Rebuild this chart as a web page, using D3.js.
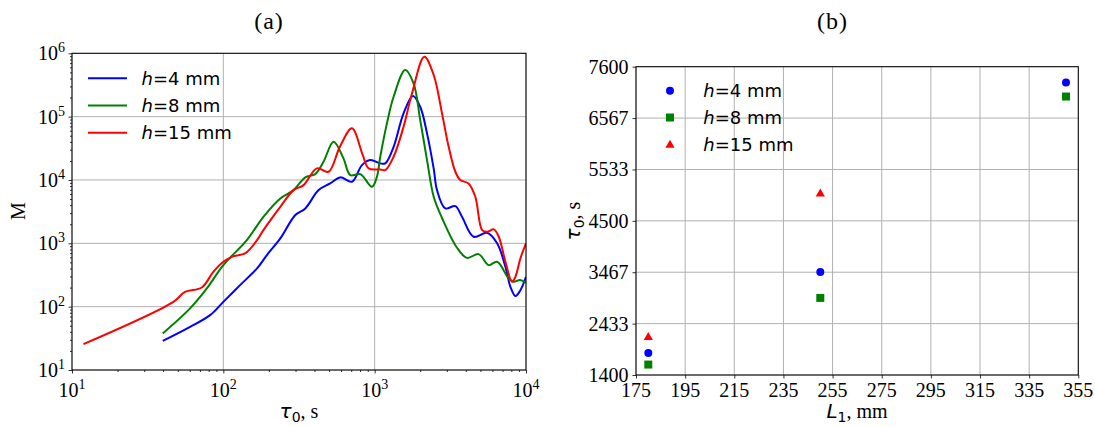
<!DOCTYPE html>
<html>
<head>
<meta charset="utf-8">
<script src="https://cdn.jsdelivr.net/npm/d3@7"></script>
<style>
  body { margin: 0; background: #fff; }
  svg { display: block; }
</style>
</head>
<body>
<svg id="chart" width="1095" height="427"></svg>
<script>
// (a) M vs tau_0, one curve per gap height
const tau4 = [39.8, 60.3, 81.8, 100, 129, 167, 194, 238, 299, 348, 426, 508, 592, 708, 824, 935, 1089, 1175, 1334, 1552, 1791, 2000, 2218, 2455, 2582, 2931, 3412, 3776, 4508, 5534, 6442, 7311, 7889, 8511, 9183, 10000];
const m4 = [28.8, 48, 73.5, 119, 219, 401, 652, 1194, 2793, 3556, 6918, 8831, 10990, 9376, 17180, 20610, 18280, 18280, 33420, 112700, 211300, 143200, 54450, 15140, 6918, 3556, 3873, 2624, 1268, 1466, 1000, 426, 206, 147, 182, 296];

const tau8 = [39.8, 60.3, 77.8, 100, 143, 184, 238, 291, 348, 405, 459, 535, 622, 690, 804, 959, 1035, 1089, 1205, 1334, 1592, 1807, 2000, 2218, 2455, 2786, 3499, 4074, 4864, 5662, 6442, 7691, 8299, 9120, 10000];
const m8 = [37.8, 93.8, 194, 453, 1122, 2624, 5117, 6918, 10990, 12390, 19410, 40090, 21930, 11940, 12390, 7816, 11220, 23280, 78340, 206100, 544500, 335700, 88310, 20610, 5433, 2512, 851, 589, 675, 453, 511, 279, 247, 263, 240];

const tau15 = [11.9, 46.8, 55.8, 72.1, 85.9, 100, 117, 139, 167, 184, 238, 291, 339, 415, 496, 589, 708, 832, 912, 1089, 1175, 1334, 1552, 1766, 2128, 2455, 2786, 3083, 3412, 3681, 4169, 4624, 5129, 5534, 6124, 6607, 7311, 8091, 8511, 9183, 10000];
const m15 = [25.6, 119, 171, 201, 355, 511, 628, 692, 1122, 1618, 3776, 6918, 8299, 15240, 13490, 33420, 65310, 25120, 15240, 14690, 14350, 23280, 69180, 233300, 883100, 454000, 112700, 33420, 13490, 9954, 8831, 5433, 1618, 1521, 1660, 1268, 511, 247, 296, 577, 1000];

const tauDecades = [10, 100, 1000, 10000];
const mDecades = [10, 100, 1000, 10000, 100000, 1000000];

// (b) tau_0 vs L1
const lengths = [180, 250, 350];
const tauH4 = [1840, 3470, 7280];
const tauH8 = [1610, 2950, 7000];
const lengthsH15 = [180, 250];
const tauH15 = [2170, 5060];
const lengthTicks = [175, 195, 215, 235, 255, 275, 295, 315, 335, 355];
const tauTicks = [1400, 2433, 3467, 4500, 5533, 6567, 7600];

const legendLabels = ["4", "8", "15"];
const colors = ["#0000ff", "#008000", "#ff0000"];

const serif = "'Liberation Serif', 'Times New Roman', serif";
const sans = "'DejaVu Sans', sans-serif";
const gridColor = "#b0b0b0";

const svg = d3.select("#chart");

// ---------- panel (a) ----------
const A = {left: 72, right: 526, top: 53.3, bottom: 370};
const xA = d3.scaleLog().domain([10, 10000]).range([A.left, A.right]);
const yA = d3.scaleLog().domain([10, 1e6]).range([A.bottom, A.top]);

const minorOf = (decades) => {
  const out = [];
  for (let i = 0; i < decades.length - 1; i++)
    for (let k = 2; k <= 9; k++) out.push(decades[i] * k);
  return out;
};

const gA = svg.append("g");

// grid
gA.selectAll("line.gx").data(tauDecades).enter().append("line")
  .attr("x1", d => xA(d)).attr("x2", d => xA(d))
  .attr("y1", A.top).attr("y2", A.bottom)
  .attr("stroke", gridColor).attr("stroke-width", 1);
gA.selectAll("line.gy").data(mDecades).enter().append("line")
  .attr("y1", d => yA(d)).attr("y2", d => yA(d))
  .attr("x1", A.left).attr("x2", A.right)
  .attr("stroke", gridColor).attr("stroke-width", 1);

// ticks
const tickAxis = (g, axis, vals, size) => {
  g.call(axis.tickValues(vals).tickSize(size).tickFormat(""));
  g.select(".domain").remove();
  g.selectAll(".tick line").attr("stroke", "#000").attr("stroke-width", 0.8);
};
tickAxis(gA.append("g").attr("transform", `translate(0,${A.bottom})`), d3.axisBottom(xA), tauDecades, 3.5);
tickAxis(gA.append("g").attr("transform", `translate(0,${A.bottom})`), d3.axisBottom(xA), minorOf(tauDecades), 2);
tickAxis(gA.append("g").attr("transform", `translate(${A.left},0)`), d3.axisLeft(yA), mDecades, 3.5);
tickAxis(gA.append("g").attr("transform", `translate(${A.left},0)`), d3.axisLeft(yA), minorOf(mDecades), 2);

// power-of-ten tick labels
const powLabel = (sel) => {
  sel.append("tspan").text("10");
  sel.append("tspan").attr("dy", -8).attr("font-size", 14).text(d => Math.round(Math.log10(d)));
};
gA.selectAll("text.xl").data(tauDecades).enter().append("text")
  .attr("x", d => xA(d)).attr("y", A.bottom + 27)
  .attr("text-anchor", "middle").attr("font-family", serif).attr("font-size", 20)
  .call(powLabel);
gA.selectAll("text.yl").data(mDecades).enter().append("text")
  .attr("x", A.left - 7).attr("y", d => yA(d) + 7)
  .attr("text-anchor", "end").attr("font-family", serif).attr("font-size", 20)
  .call(powLabel);

// curves
svg.append("clipPath").attr("id", "clipA").append("rect")
  .attr("x", A.left).attr("y", A.top).attr("width", A.right - A.left).attr("height", A.bottom - A.top);
const lineA = d3.line().x(d => xA(d[0])).y(d => yA(d[1])).curve(d3.curveCatmullRom.alpha(0.5));
const seriesA = [d3.zip(tau4, m4), d3.zip(tau8, m8), d3.zip(tau15, m15)];
gA.append("g").attr("clip-path", "url(#clipA)")
  .selectAll("path").data(seriesA).enter().append("path")
  .attr("d", lineA).attr("fill", "none")
  .attr("stroke", (d, i) => colors[i]).attr("stroke-width", 2)
  .attr("stroke-linejoin", "round");

// frame
gA.append("rect").attr("x", A.left).attr("y", A.top)
  .attr("width", A.right - A.left).attr("height", A.bottom - A.top)
  .attr("fill", "none").attr("stroke", "#000").attr("stroke-width", 1);

// legend
const legA = gA.append("g");
legendLabels.forEach((lab, i) => {
  const y = 78.3 + i * 27.2;
  legA.append("line").attr("x1", 88).attr("x2", 127).attr("y1", y).attr("y2", y)
    .attr("stroke", colors[i]).attr("stroke-width", 2);
  const t = legA.append("text").attr("x", 141.5).attr("y", y + 6.5)
    .attr("font-family", sans).attr("font-size", 18);
  t.append("tspan").attr("font-style", "italic").text("h");
  t.append("tspan").text("=" + lab + " mm");
});

// labels
svg.append("text").attr("x", 269).attr("y", 29).attr("text-anchor", "middle")
  .attr("font-family", serif).attr("font-size", 24).attr("letter-spacing", 1).text("(a)");
svg.append("text").attr("transform", "translate(25,211) rotate(-90)")
  .attr("text-anchor", "middle").attr("font-family", serif).attr("font-size", 20).text("M");
const xlA = svg.append("text").attr("x", 299).attr("y", 418).attr("text-anchor", "middle").attr("font-size", 20);
xlA.append("tspan").attr("font-family", sans).attr("font-style", "italic").text("τ");
xlA.append("tspan").attr("font-family", sans).attr("font-size", 14).attr("dy", 4).text("0");
xlA.append("tspan").attr("font-family", serif).attr("dy", -4).text(", s");

// ---------- panel (b) ----------
const B = {left: 636, right: 1078.3, top: 66.7, bottom: 375};
const xB = d3.scaleLinear().domain([175, 355]).range([B.left, B.right]);
const yB = d3.scaleLinear().domain([1400, 7600]).range([B.bottom, B.top]);
const gB = svg.append("g");

gB.selectAll("line.gx").data(lengthTicks).enter().append("line")
  .attr("x1", d => xB(d)).attr("x2", d => xB(d))
  .attr("y1", B.top).attr("y2", B.bottom)
  .attr("stroke", gridColor).attr("stroke-width", 1);
gB.selectAll("line.gy").data(tauTicks).enter().append("line")
  .attr("y1", d => yB(d)).attr("y2", d => yB(d))
  .attr("x1", B.left).attr("x2", B.right)
  .attr("stroke", gridColor).attr("stroke-width", 1);

tickAxis(gB.append("g").attr("transform", `translate(0,${B.bottom})`), d3.axisBottom(xB), lengthTicks, 3.5);
tickAxis(gB.append("g").attr("transform", `translate(${B.left},0)`), d3.axisLeft(yB), tauTicks, 3.5);

gB.selectAll("text.xl").data(lengthTicks).enter().append("text")
  .attr("x", d => xB(d)).attr("y", B.bottom + 22)
  .attr("text-anchor", "middle").attr("font-family", serif).attr("font-size", 20)
  .text(d => d);
gB.selectAll("text.yl").data(tauTicks).enter().append("text")
  .attr("x", B.left - 7.5).attr("y", d => yB(d) + 7)
  .attr("text-anchor", "end").attr("font-family", serif).attr("font-size", 20)
  .text(d => d);

// markers
const triangle = "M0,-4.6L4.6,3.4L-4.6,3.4Z";
const drawMarker = (g, shape, color) => {
  if (shape === 0) g.append("circle").attr("r", 4).attr("fill", color);
  else if (shape === 1) g.append("rect").attr("x", -4).attr("y", -4).attr("width", 8).attr("height", 8).attr("fill", color);
  else g.append("path").attr("d", triangle).attr("fill", color);
};
const seriesB = [d3.zip(lengths, tauH4), d3.zip(lengths, tauH8), d3.zip(lengthsH15, tauH15)];
seriesB.forEach((pts, i) => {
  pts.forEach(p => {
    drawMarker(gB.append("g").attr("transform", `translate(${xB(p[0])},${yB(p[1])})`), i, colors[i]);
  });
});

gB.append("rect").attr("x", B.left).attr("y", B.top)
  .attr("width", B.right - B.left).attr("height", B.bottom - B.top)
  .attr("fill", "none").attr("stroke", "#000").attr("stroke-width", 1);

// legend
legendLabels.forEach((lab, i) => {
  const y = 90.7 + i * 26.8;
  drawMarker(gB.append("g").attr("transform", `translate(670,${y})`), i, colors[i]);
  const t = gB.append("text").attr("x", 703.3).attr("y", y + 6.5)
    .attr("font-family", sans).attr("font-size", 18);
  t.append("tspan").attr("font-style", "italic").text("h");
  t.append("tspan").text("=" + lab + " mm");
});

svg.append("text").attr("x", 832.5).attr("y", 29).attr("text-anchor", "middle")
  .attr("font-family", serif).attr("font-size", 24).attr("letter-spacing", 1).text("(b)");
const ylB = svg.append("text").attr("transform", "translate(580,221) rotate(-90)")
  .attr("text-anchor", "middle").attr("font-size", 20);
ylB.append("tspan").attr("font-family", sans).attr("font-style", "italic").text("τ");
ylB.append("tspan").attr("font-family", sans).attr("font-size", 14).attr("dy", 4).text("0");
ylB.append("tspan").attr("font-family", serif).attr("dy", -4).text(", s");
const xlB = svg.append("text").attr("x", 857).attr("y", 418).attr("text-anchor", "middle").attr("font-size", 20);
xlB.append("tspan").attr("font-family", sans).attr("font-style", "italic").text("L");
xlB.append("tspan").attr("font-family", sans).attr("font-size", 14).attr("dy", 4).text("1");
xlB.append("tspan").attr("font-family", serif).attr("dy", -4).text(", mm");
</script>
</body>
</html>
